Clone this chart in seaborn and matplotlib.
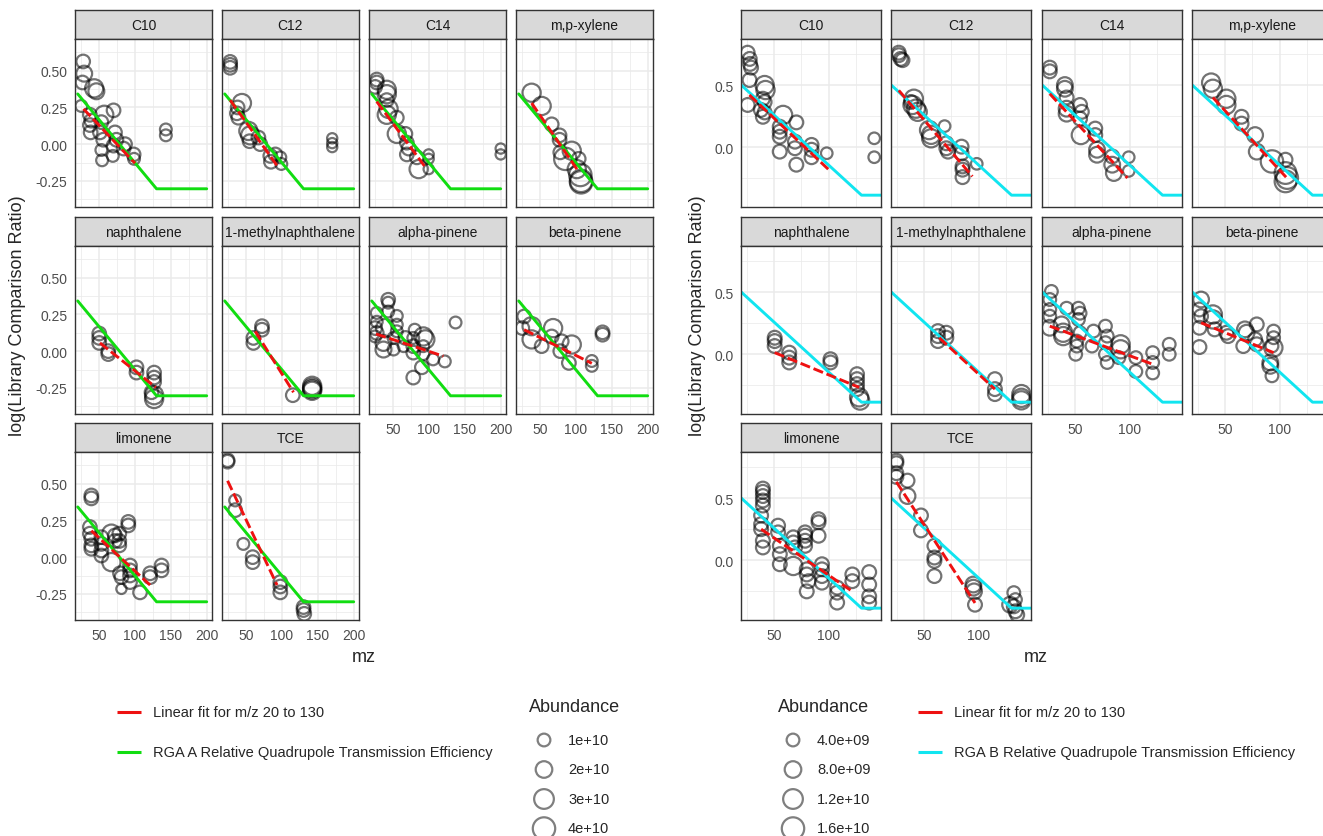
import numpy as np
import pandas as pd
import seaborn as sns
import matplotlib.pyplot as plt

# facet order
compounds = ["C10", "C12", "C14", "m,p-xylene", "naphthalene",
             "1-methylnaphthalene", "alpha-pinene", "beta-pinene", "limonene", "TCE"]

# ---------------- RGA A (mz, log ratio, abundance in 1e10) ----------------
a_c10_mz = [27.6, 29, 26.6, 43, 46, 25, 37, 39, 37, 38, 57, 70, 53, 51, 55.6, 53, 54, 70, 69, 72, 74, 86, 84, 98, 98.6, 143, 143]
a_c10_lr = [0.563, 0.48, 0.42, 0.38, 0.36, 0.26, 0.20, 0.16, 0.13, 0.08, 0.20, 0.23, 0.15, 0.08, 0.03, -0.04, -0.11, -0.01, -0.08, 0.08, 0.03, 0.0, -0.03, -0.07, -0.10, 0.10, 0.06]
a_c10_ab = [1.2, 1.8, 1.2, 2.5, 1.8, 0.8, 1.2, 1.2, 1.2, 1.2, 2.5, 1.2, 1.2, 1.2, 1.2, 0.8, 0.8, 1.2, 0.8, 1.2, 1.2, 1.2, 1.2, 1.2, 0.8, 0.8, 0.8]

a_c12_mz = [27.6, 27.6, 27.6, 44, 38, 37, 39, 53, 55.6, 54.7, 67, 69.6, 84.5, 83.6, 90.6, 97.6, 99, 170, 170, 170]
a_c12_lr = [0.56, 0.54, 0.52, 0.28, 0.25, 0.21, 0.18, 0.09, 0.06, 0.02, 0.045, 0.0, -0.12, -0.08, -0.07, -0.09, -0.135, 0.04, 0.007, -0.02]
a_c12_ab = [1.2, 1.2, 1.2, 2.5, 1.2, 1.2, 1.2, 2.5, 2.5, 1.2, 1.2, 1.2, 1.2, 1.2, 1.2, 0.8, 0.8, 0.5, 0.5, 0.5]

a_c14_mz = [27, 27, 24.8, 41, 41, 41, 43.5, 41, 55, 55, 67, 69, 71.5, 69, 83, 99.5, 99.5, 99.5, 85.5, 200, 200]
a_c14_lr = [0.44, 0.42, 0.39, 0.37, 0.34, 0.30, 0.24, 0.20, 0.18, 0.07, 0.07, 0.01, -0.03, -0.07, -0.09, -0.07, -0.10, -0.17, -0.17, -0.03, -0.07]
a_c14_ab = [1.2, 1.2, 1.2, 2.5, 2.5, 1.2, 2.5, 2.5, 1.2, 2.5, 1.2, 1.2, 1.2, 1.2, 1.2, 0.5, 0.5, 0.5, 2.5, 0.5, 0.5]

a_xyl_mz = [38, 52, 66, 77, 77, 78, 85, 94, 103.7, 106, 107, 107, 101]
a_xyl_lr = [0.35, 0.26, 0.135, 0.06, 0.03, -0.056, -0.10, -0.045, -0.10, -0.21, -0.25, -0.26, -0.17]
a_xyl_ab = [2.5, 2.5, 1.2, 1.2, 1.2, 1.2, 4.8, 2.5, 1.2, 4.8, 4.8, 4.8, 2.5]

a_nap_mz = [50, 50, 50, 62.6, 62.6, 102, 102, 126.6, 126.6, 126.6, 126.6, 126.6, 123]
a_nap_lr = [0.12, 0.09, 0.056, 0.0, -0.02, -0.11, -0.146, -0.146, -0.18, -0.21, -0.30, -0.326, -0.28]
a_nap_ab = [1.2, 1.2, 1.2, 1.2, 1.2, 1.2, 1.2, 1.2, 1.2, 1.2, 2.5, 2.5, 1.2]

a_mnap_mz = [60, 60, 72, 72, 115, 142, 142, 142, 142]
a_mnap_lr = [0.09, 0.056, 0.17, 0.146, -0.30, -0.236, -0.25, -0.26, -0.27]
a_mnap_ab = [1.2, 1.2, 1.2, 1.2, 1.2, 2.5, 2.5, 2.5, 2.5]

a_apin_mz = [43, 43, 43, 55, 27, 27, 24.8, 27, 24.8, 38.8, 36.4, 36.4, 50.5, 50.5, 55, 55, 67, 64.5, 80, 78, 78, 78, 92, 94.8, 92, 92, 90, 78, 105.6, 122, 137]
a_apin_lr = [0.35, 0.33, 0.27, 0.24, 0.26, 0.20, 0.157, 0.124, 0.10, 0.157, 0.056, 0.011, 0.011, 0.09, 0.135, 0.18, 0.09, 0.034, 0.146, 0.09, 0.034, -0.01, 0.10, 0.08, 0.034, -0.02, -0.11, -0.18, -0.056, -0.07, 0.195]
a_apin_ab = [1.2, 0.8, 0.8, 0.8, 0.8, 0.8, 1.2, 1.2, 0.8, 2.5, 1.8, 1.8, 0.8, 0.8, 0.8, 0.8, 1.2, 0.8, 0.8, 0.8, 1.2, 1.2, 2.5, 2.5, 0.8, 0.8, 1.2, 1.2, 0.8, 0.8, 0.8]

a_bpin_mz = [27.6, 25, 38, 38, 52, 68, 66, 80, 94, 78, 90, 122, 122, 137, 137]
a_bpin_lr = [0.236, 0.157, 0.17, 0.08, 0.034, 0.157, 0.10, 0.067, 0.045, 0.0, -0.08, -0.067, -0.10, 0.128, 0.112]
a_bpin_ab = [1.2, 1.2, 2.5, 2.5, 1.2, 2.5, 1.2, 1.2, 2.5, 1.2, 1.2, 0.8, 0.8, 1.2, 1.2]

a_lim_mz = [39, 39, 37, 37, 39, 39, 39, 53, 53, 53, 53, 67, 67, 78, 78, 78, 72, 72, 90.6, 90.6, 81, 79, 81, 93, 93, 93, 93, 107, 121, 121, 137, 137]
a_lim_lr = [0.42, 0.40, 0.205, 0.16, 0.125, 0.08, 0.057, 0.136, 0.09, 0.045, 0.011, 0.16, -0.034, 0.16, 0.11, 0.08, 0.148, 0.11, 0.24, 0.216, -0.216, -0.11, -0.136, -0.057, -0.09, -0.125, -0.17, -0.24, -0.11, -0.136, -0.057, -0.09]
a_lim_ab = [1.2, 1.2, 1.2, 1.2, 1.2, 1.2, 1.2, 1.2, 1.2, 1.2, 1.2, 2.5, 2.5, 1.2, 1.2, 1.2, 1.2, 1.2, 1.2, 1.2, 0.5, 1.2, 1.2, 1.2, 1.2, 1.2, 1.2, 1.2, 1.2, 1.2, 1.2, 1.2]

a_tce_mz = [24, 24, 34.6, 34.6, 46, 59, 59, 97.6, 97.6, 97.6, 130, 130, 131]
a_tce_lr = [0.66, 0.65, 0.386, 0.32, 0.09, 0.0, -0.034, -0.17, -0.2, -0.24, -0.34, -0.36, -0.386]
a_tce_ab = [1.2, 1.2, 0.8, 1.2, 0.8, 1.2, 1.2, 1.2, 1.2, 1.2, 1.2, 1.2, 1.2]

# linear fit end points for m/z 20-130, RGA A
fit_a_x0 = [28, 27.6, 27, 38, 51, 62.6, 26, 27.6, 39, 24]
fit_a_y0 = [0.24, 0.30, 0.29, 0.28, 0.056, 0.135, 0.117, 0.146, 0.18, 0.52]
fit_a_x1 = [100, 93, 95, 104, 129, 116, 120, 122, 121, 93]
fit_a_y1 = [-0.13, -0.146, -0.158, -0.19, -0.247, -0.28, -0.034, -0.083, -0.19, -0.19]

# relative quadrupole transmission efficiency, RGA A
eff_a_mz = [20, 130, 200]
eff_a_lr = [0.342, -0.304, -0.304]

# ---------------- RGA B ----------------
b_c10_mz = [25.9, 27.8, 28.1, 29.0, 27.6, 25.9, 41.4, 42.2, 39.8, 41.4, 38.0, 41.4, 39.8, 58.3, 55.2, 55.2, 55.2, 55.2, 70.4, 69.1, 69.1, 70.4, 84.3, 84.3, 84.3, 98.2, 141.6, 141.6]
b_c10_lr = [0.76, 0.71, 0.67, 0.64, 0.54, 0.34, 0.50, 0.46, 0.39, 0.364, 0.30, 0.28, 0.245, 0.26, 0.165, 0.125, 0.085, -0.035, 0.20, 0.045, -0.008, -0.14, 0.019, -0.02, -0.08, -0.048, 0.072, -0.08]
b_c10_ab = [0.5, 0.5, 0.5, 0.5, 0.5, 0.5, 1.0, 1.0, 0.5, 0.5, 0.5, 0.5, 0.5, 1.0, 0.5, 0.5, 0.5, 0.5, 0.5, 0.5, 0.5, 0.5, 0.5, 0.5, 0.5, 0.3, 0.3, 0.3]

b_c12_mz = [26.9, 26.9, 28.7, 30.3, 39.5, 40.7, 42.6, 44.2, 38.0, 54.6, 56.5, 56.5, 70.4, 70.4, 71.9, 68.8, 84.3, 84.3, 85.2, 85.2, 85.2, 98.2]
b_c12_lr = [0.76, 0.74, 0.71, 0.70, 0.34, 0.39, 0.31, 0.285, 0.364, 0.138, 0.10, 0.072, 0.032, -0.008, -0.035, 0.17, 0.005, -0.048, -0.154, -0.18, -0.24, -0.133]
b_c12_ab = [0.5, 0.5, 0.5, 0.5, 1.0, 1.0, 1.0, 1.0, 0.5, 1.0, 1.0, 1.0, 0.5, 0.5, 0.5, 0.3, 0.5, 0.5, 0.5, 0.5, 0.5, 0.3]

b_c14_mz = [26.9, 26.9, 40.7, 40.7, 42.3, 42.3, 42.3, 54.6, 56.2, 54.6, 55.3, 68.5, 68.5, 70.1, 70.1, 84.0, 84.0, 85.5, 99.1, 99.1]
b_c14_lr = [0.64, 0.61, 0.50, 0.47, 0.40, 0.31, 0.27, 0.34, 0.285, 0.23, 0.098, 0.15, 0.098, -0.02, -0.06, -0.074, -0.14, -0.207, -0.08, -0.19]
b_c14_ab = [0.5, 0.5, 0.7, 0.7, 0.5, 0.7, 0.7, 0.5, 0.5, 0.5, 1.0, 0.5, 0.5, 0.7, 0.7, 0.5, 0.7, 0.7, 0.3, 0.3]

b_xyl_mz = [37.3, 38.9, 51.2, 51.2, 65.1, 65.1, 77.5, 79.0, 92.9, 105.3, 105.3, 106.8, 105.3]
b_xyl_lr = [0.52, 0.47, 0.39, 0.34, 0.245, 0.19, 0.098, -0.035, -0.114, -0.10, -0.207, -0.247, -0.274]
b_xyl_ab = [1.0, 1.0, 1.0, 1.0, 0.5, 0.5, 0.7, 0.7, 1.9, 0.5, 1.5, 1.5, 1.5]

b_nap_mz = [50.6, 50.6, 50.6, 63.9, 63.9, 63.9, 101.6, 101.6, 125.9, 125.9, 125.9, 125.9, 127.8, 128.7]
b_nap_lr = [0.133, 0.106, 0.066, 0.013, -0.027, -0.066, -0.04, -0.066, -0.16, -0.2, -0.24, -0.28, -0.346, -0.372]
b_nap_ab = [0.5, 0.5, 0.5, 0.5, 0.5, 0.5, 0.5, 0.5, 0.5, 0.5, 0.5, 0.5, 1.0, 1.0]

b_mnap_mz = [62.7, 62.7, 62.7, 70.4, 70.4, 114.8, 114.8, 114.8, 139, 139, 139]
b_mnap_lr = [0.186, 0.146, 0.106, 0.173, 0.133, -0.2, -0.28, -0.32, -0.32, -0.35, -0.37]
b_mnap_ab = [0.5, 0.5, 0.5, 0.5, 0.5, 0.5, 0.5, 0.5, 1.0, 1.0, 1.0]

b_apin_mz = [28.4, 26.9, 26.9, 26.9, 26.9, 37.7, 39.2, 39.2, 42.3, 53.1, 54.6, 53.1, 54.6, 51.6, 51.6, 50.6, 65.5, 66.9, 77.8, 79.4, 77.8, 77.8, 79.4, 91.7, 91.7, 90.1, 105.6, 105.6, 121.0, 121.0, 121.0, 136.1, 136.1]
b_apin_lr = [0.505, 0.44, 0.36, 0.306, 0.213, 0.24, 0.173, 0.146, 0.37, 0.37, 0.33, 0.28, 0.173, 0.106, 0.066, 0.0, 0.066, 0.186, 0.226, 0.146, 0.093, 0.0, -0.066, 0.08, 0.04, -0.027, -0.027, -0.138, 0.013, -0.066, -0.15, 0.08, 0.0]
b_apin_ab = [0.4, 0.4, 0.4, 0.4, 0.7, 0.7, 1.0, 1.0, 0.4, 0.4, 0.4, 0.4, 0.4, 0.4, 0.4, 0.4, 0.4, 0.4, 0.4, 0.4, 0.4, 0.4, 0.4, 1.0, 1.0, 0.4, 0.4, 0.4, 0.4, 0.4, 0.4, 0.4, 0.4]

b_bpin_mz = [28.1, 26.6, 28.1, 26.6, 26.6, 38.9, 38.9, 40.5, 51.2, 52.8, 68.2, 69.7, 66.7, 79.0, 77.5, 79.0, 91.4, 91.4, 92.9, 92.9, 94.4, 94.4, 94.2]
b_bpin_lr = [0.44, 0.36, 0.306, 0.213, 0.058, 0.32, 0.28, 0.2, 0.173, 0.146, 0.2, 0.173, 0.066, 0.24, 0.12, 0.08, -0.066, -0.093, -0.173, 0.066, 0.186, 0.133, 0.053]
b_bpin_ab = [0.7, 0.5, 0.5, 0.5, 0.5, 1.0, 1.0, 0.5, 0.5, 0.5, 0.7, 0.7, 0.5, 0.5, 0.5, 0.5, 0.7, 0.7, 0.4, 0.4, 0.4, 0.4, 1.0]

b_lim_mz = [39.8, 39.8, 39.8, 39.8, 39.8, 38.2, 38.2, 38.2, 39.8, 39.8, 53.7, 53.7, 55.3, 55.3, 55.3, 67.6, 67.6, 69.2, 67.6, 78.4, 78.4, 78.4, 78.4, 79.9, 79.9, 81.5, 79.9, 90.7, 90.7, 90.7, 93.8, 93.8, 93.8, 93.8, 107.7, 107.7, 107.7, 121.6, 121.6, 137.0, 137.0, 137.0, 137.0]
b_lim_lr = [0.576, 0.55, 0.516, 0.48, 0.44, 0.36, 0.29, 0.25, 0.157, 0.103, 0.278, 0.224, 0.116, 0.049, -0.032, 0.184, 0.143, 0.103, -0.046, 0.224, 0.197, 0.157, 0.116, -0.073, -0.114, -0.168, -0.25, 0.33, 0.305, 0.197, -0.032, -0.073, -0.127, -0.18, -0.22, -0.26, -0.34, -0.114, -0.168, -0.095, -0.195, -0.29, -0.34]
b_lim_ab = [0.5, 0.5, 0.5, 0.5, 0.5, 0.5, 0.5, 0.5, 0.5, 0.5, 0.5, 0.5, 0.5, 0.5, 0.5, 0.5, 0.5, 0.5, 1.0, 0.5, 0.5, 0.5, 0.5, 0.5, 0.5, 0.5, 0.5, 0.5, 0.5, 0.5, 0.5, 0.5, 0.5, 0.5, 0.5, 0.5, 0.5, 0.5, 0.5, 0.5, 0.5, 0.5, 0.5]

b_tce_mz = [24.7, 24.7, 24.7, 24.7, 34.9, 34.9, 47.2, 47.2, 59.5, 59.5, 59.5, 59.5, 95.1, 95.1, 95.7, 96.6, 132.1, 133.6, 132.1, 133.6, 135.2, 128.7]
b_tce_lr = [0.80, 0.78, 0.70, 0.67, 0.64, 0.516, 0.36, 0.24, 0.116, 0.022, -0.005, -0.127, -0.195, -0.22, -0.25, -0.357, -0.26, -0.316, -0.37, -0.41, -0.438, -0.357]
b_tce_ab = [0.5, 0.5, 0.5, 0.5, 0.5, 0.7, 0.5, 0.5, 0.5, 0.5, 0.5, 0.5, 0.7, 0.7, 0.7, 0.5, 0.4, 0.4, 0.5, 0.5, 0.5, 0.7]

fit_b_x0 = [27.5, 26.9, 26.9, 38.9, 50.6, 63.9, 26.9, 28.1, 38.2, 24.7]
fit_b_y0 = [0.42, 0.457, 0.43, 0.40, 0.013, 0.133, 0.226, 0.253, 0.25, 0.63]
fit_b_x1 = [100, 94.2, 97.9, 106.5, 127.8, 114.8, 121.0, 94.4, 121.6, 96.6]
fit_b_y1 = [-0.18, -0.234, -0.247, -0.247, -0.266, -0.28, -0.08, 0.013, -0.25, -0.343]

eff_b_mz = [20, 130, 148]
eff_b_lr = [0.50, -0.385, -0.385]

# legend breaks
breaks_a = [1e10, 2e10, 3e10, 4e10]
labels_a = ["1e+10", "2e+10", "3e+10", "4e+10"]
breaks_b = [4e9, 8e9, 1.2e10, 1.6e10]
labels_b = ["4.0e+09", "8.0e+09", "1.2e+10", "1.6e+10"]

fit_label = "Linear fit for m/z 20 to 130"
eff_label_a = "RGA A Relative Quadrupole Transmission Efficiency"
eff_label_b = "RGA B Relative Quadrupole Transmission Efficiency"

rga_a = {
    "C10": (a_c10_mz, a_c10_lr, a_c10_ab), "C12": (a_c12_mz, a_c12_lr, a_c12_ab),
    "C14": (a_c14_mz, a_c14_lr, a_c14_ab), "m,p-xylene": (a_xyl_mz, a_xyl_lr, a_xyl_ab),
    "naphthalene": (a_nap_mz, a_nap_lr, a_nap_ab), "1-methylnaphthalene": (a_mnap_mz, a_mnap_lr, a_mnap_ab),
    "alpha-pinene": (a_apin_mz, a_apin_lr, a_apin_ab), "beta-pinene": (a_bpin_mz, a_bpin_lr, a_bpin_ab),
    "limonene": (a_lim_mz, a_lim_lr, a_lim_ab), "TCE": (a_tce_mz, a_tce_lr, a_tce_ab),
}
rga_b = {
    "C10": (b_c10_mz, b_c10_lr, b_c10_ab), "C12": (b_c12_mz, b_c12_lr, b_c12_ab),
    "C14": (b_c14_mz, b_c14_lr, b_c14_ab), "m,p-xylene": (b_xyl_mz, b_xyl_lr, b_xyl_ab),
    "naphthalene": (b_nap_mz, b_nap_lr, b_nap_ab), "1-methylnaphthalene": (b_mnap_mz, b_mnap_lr, b_mnap_ab),
    "alpha-pinene": (b_apin_mz, b_apin_lr, b_apin_ab), "beta-pinene": (b_bpin_mz, b_bpin_lr, b_bpin_ab),
    "limonene": (b_lim_mz, b_lim_lr, b_lim_ab), "TCE": (b_tce_mz, b_tce_lr, b_tce_ab),
}

# ---------------- style / layout ----------------
sns.set_theme(style="white")
plt.rcParams["font.family"] = ["Liberation Sans", "DejaVu Sans"]

W, H = 1323, 837
RED = "#EE1111"
GREEN = "#11DD11"
CYAN = "#11E5F0"
GRID = "#EBEBEB"
DARK = "#333333"
SIZES = (25, 260)
PT_ALPHA = 0.55
PT_LW = 1.6

fig = plt.figure(figsize=(W / 100, H / 100), dpi=100)


def box(x, y, w, h):
    return [x / W, 1 - (y + h) / H, w / W, h / H]


strip_tops = [11, 218, 424]
strip_h = 29
plot_h = 168


def draw_group(lefts, width, data, fits, eff_mz, eff_lr, eff_color, xlim, ylim,
               xmaj, xmin, ymaj, ymin, yfmt, size_norm):
    for i, name in enumerate(compounds):
        r, c = divmod(i, 4)
        x0, top = lefts[c], strip_tops[r]

        sax = fig.add_axes(box(x0, top, width, strip_h))
        sax.set_facecolor("#D9D9D9")
        sax.set_xticks([])
        sax.set_yticks([])
        for s in sax.spines.values():
            s.set_color(DARK)
            s.set_linewidth(1.0)
        sax.text(0.5, 0.47, name, transform=sax.transAxes, ha="center", va="center",
                 fontsize=10, color="#1A1A1A")

        ax = fig.add_axes(box(x0, top + strip_h, width, plot_h))
        ax.set_facecolor("white")
        mz, lr, ab = data[name]
        df = pd.DataFrame({"mz": mz, "ratio": lr, "abundance": np.array(ab) * 1e10})
        sns.scatterplot(data=df, x="mz", y="ratio", size="abundance", sizes=SIZES,
                        size_norm=size_norm, legend=False, facecolor="none",
                        edgecolor="black", alpha=PT_ALPHA, linewidth=PT_LW, ax=ax, zorder=3)
        sns.lineplot(x=eff_mz, y=eff_lr, color=eff_color, linewidth=2.1,
                     errorbar=None, ax=ax, zorder=4)
        sns.lineplot(x=[fits[0][i], fits[2][i]], y=[fits[1][i], fits[3][i]], color=RED,
                     linewidth=2.1, linestyle=(0, (3.5, 1.3)), errorbar=None, ax=ax, zorder=5)

        ax.set_xlim(*xlim)
        ax.set_ylim(*ylim)
        ax.set_xticks(xmaj)
        ax.set_xticks(xmin, minor=True)
        ax.set_yticks(ymaj)
        ax.set_yticks(ymin, minor=True)
        ax.grid(which="major", color=GRID, linewidth=1.1)
        ax.grid(which="minor", color=GRID, linewidth=0.55)
        ax.set_axisbelow(True)
        ax.set(xlabel="", ylabel="")
        for s in ax.spines.values():
            s.set_color(DARK)
            s.set_linewidth(1.0)
            s.set_zorder(6)
        ax.tick_params(which="minor", length=0)
        ax.tick_params(which="major", length=3.5, width=0.9, color=DARK,
                       labelsize=10, labelcolor="#4D4D4D", pad=2)
        if i >= 6:
            ax.set_xticklabels([str(v) for v in xmaj])
        else:
            ax.tick_params(axis="x", which="major", length=0, labelbottom=False)
        if c == 0:
            ax.set_yticklabels([yfmt.format(v) for v in ymaj])
        else:
            ax.tick_params(axis="y", which="major", length=0, labelleft=False)


draw_group([75, 222, 369, 516], 137, rga_a, (fit_a_x0, fit_a_y0, fit_a_x1, fit_a_y1),
           eff_a_mz, eff_a_lr, GREEN, (16.2, 207.4), (-0.428, 0.716),
           [50, 100, 150, 200], [25, 75, 125, 175],
           [-0.25, 0.0, 0.25, 0.5], [-0.375, -0.125, 0.125, 0.375, 0.625], "{:.2f}",
           (0, 4e10))
draw_group([741, 891, 1042, 1192], 140, rga_b, (fit_b_x0, fit_b_y0, fit_b_x1, fit_b_y1),
           eff_b_mz, eff_b_lr, CYAN, (19.8, 147.8), (-0.48, 0.87),
           [50, 100], [25, 75, 125],
           [0.0, 0.5], [-0.25, 0.25, 0.75], "{:.1f}",
           (0, 1.6e10))

# axis titles
for xc in (18, 698):
    fig.text(xc / W, 1 - 316 / H, "log(Library Comparison Ratio)", rotation=90,
             ha="center", va="center", fontsize=13)
for xc in (364, 1036):
    fig.text(xc / W, 1 - 658 / H, "mz", ha="center", va="center", fontsize=13)

# legends (drawn in a pixel-coordinate overlay)
lg = fig.add_axes([0, 0, 1, 1], zorder=-1)
lg.set_xlim(0, W)
lg.set_ylim(H, 0)
lg.axis("off")


def line_legend(x, eff_color, eff_label):
    lg.plot([x, x + 24], [713, 713], color=RED, linewidth=2.2, solid_capstyle="butt")
    lg.text(x + 36, 713, fit_label, va="center", fontsize=10.5)
    lg.plot([x, x + 24], [753, 753], color=eff_color, linewidth=2.2, solid_capstyle="butt")
    lg.text(x + 36, 753, eff_label, va="center", fontsize=10.5)


def size_legend(x, breaks, labels, size_norm):
    lg.text(x - 15, 707, "Abundance", va="center", ha="left", fontsize=13)
    for k, (v, lab) in enumerate(zip(breaks, labels)):
        y = 741 + 29.5 * k
        s = SIZES[0] + (SIZES[1] - SIZES[0]) * v / size_norm[1]
        lg.scatter([x], [y], s=s, facecolor="none", edgecolor="black", alpha=0.5, linewidth=PT_LW)
        lg.text(x + 24, y, lab, va="center", fontsize=10.5)


line_legend(117, GREEN, eff_label_a)
size_legend(544, breaks_a, labels_a, (0, 4e10))
size_legend(793, breaks_b, labels_b, (0, 1.6e10))
line_legend(918, CYAN, eff_label_b)

fig.savefig("out.png", dpi=100)
